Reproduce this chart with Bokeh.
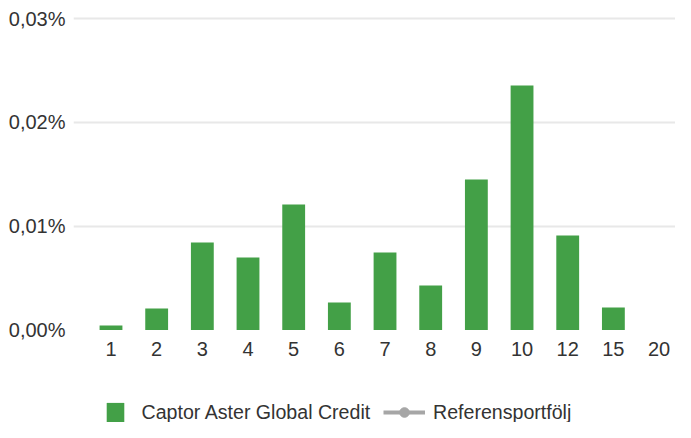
import numpy as np
from bokeh.plotting import figure
from bokeh.layouts import column
from bokeh.models import (ColumnDataSource, FixedTicker, CustomJSTickFormatter,
                          Legend, LegendItem, Range1d)
from bokeh.embed import file_html
from bokeh.resources import INLINE

categories = ["1", "2", "3", "4", "5", "6", "7", "8", "9", "10", "12", "15", "20"]
fund_values = [0.00043, 0.00207, 0.00843, 0.00698, 0.01209, 0.00265, 0.00747,
               0.00429, 0.01450, 0.02355, 0.00910, 0.00217, 0.0]
reference_values = []
y_ticks = [0.0, 0.01, 0.02, 0.03]
fund_name = "Captor Aster Global Credit"
reference_name = "Referensportfölj"

FONT = "Liberation Sans"
TXT = "#333333"
GREEN = "#43a047"
GREY = "#a6a6a6"

xs = list(range(len(categories)))
src = ColumnDataSource(dict(x=xs, top=fund_values, cat=categories))
ref_src = ColumnDataSource(dict(x=list(range(len(reference_values))), y=reference_values))

p = figure(width=675, height=380, output_backend="svg", toolbar_location=None,
           x_range=Range1d(-0.821, 12.36), y_range=Range1d(-0.00024, 0.031734),
           min_border_left=73, min_border_right=0, min_border_top=0, min_border_bottom=48)
p.outline_line_color = None
p.background_fill_color = "white"
p.border_fill_color = "white"

p.vbar(x="x", top="top", width=0.5, source=src, color=GREEN, line_color=None)
p.line("x", "y", source=ref_src, line_color=GREY, line_width=4)
p.scatter("x", "y", source=ref_src, size=9, color=GREY)

p.xaxis.ticker = FixedTicker(ticks=xs)
p.xaxis.major_label_overrides = {i: c for i, c in zip(xs, categories)}
p.yaxis.ticker = FixedTicker(ticks=y_ticks)
p.yaxis.formatter = CustomJSTickFormatter(code="return tick.toFixed(2).replace('.', ',') + '%';")
for ax in (p.xaxis, p.yaxis):
    ax.axis_line_color = None
    ax.major_tick_line_color = None
    ax.minor_tick_line_color = None
    ax.major_label_text_font = FONT
    ax.major_label_text_font_size = "20px"
    ax.major_label_text_color = TXT
p.xaxis.major_label_standoff = 3
p.yaxis.major_label_standoff = 2

p.xgrid.grid_line_color = None
p.ygrid.ticker = FixedTicker(ticks=[t for t in y_ticks if t > 0])
p.ygrid.grid_line_color = "#e8e8e8"
p.ygrid.grid_line_width = 2

# legend strip (separate figure so the legend is not clipped)
lg = figure(width=675, height=42, output_backend="svg", toolbar_location=None,
            x_range=Range1d(0, 1), y_range=Range1d(0, 1),
            x_axis_location=None, y_axis_location=None,
            min_border_left=0, min_border_right=0, min_border_top=0, min_border_bottom=0)
lg.outline_line_color = None
lg.xgrid.visible = False
lg.ygrid.visible = False
# placeholder (NaN) rows so the legend swatches are drawn; nothing is plotted
placeholder = ColumnDataSource(dict(x=np.array([np.nan]), top=np.array([np.nan]),
                                    y=np.array([np.nan])))
r_bar = lg.vbar(x="x", top="top", width=0.5, source=placeholder, color=GREEN, line_color=None)
r_line = lg.line("x", "y", source=placeholder, line_color=GREY, line_width=4)
r_pts = lg.scatter("x", "y", source=placeholder, size=9, color=GREY)

common = dict(padding=0, margin=0, border_line_color=None, background_fill_alpha=0,
              label_text_font=FONT, label_text_font_size="19.6px", label_text_color=TXT,
              label_height=20, glyph_height=24)
leg1 = Legend(items=[LegendItem(label=fund_name, renderers=[r_bar])],
              location=(30.5, -2), glyph_width=22, label_standoff=16, **common)
leg2 = Legend(items=[LegendItem(label=reference_name, renderers=[r_line, r_pts])],
              location=(310, -2), glyph_width=42, label_standoff=8, **common)
lg.add_layout(leg1)
lg.add_layout(leg2)

layout = column(p, lg, spacing=0)
open("out.html", "w").write(file_html(layout, INLINE))
